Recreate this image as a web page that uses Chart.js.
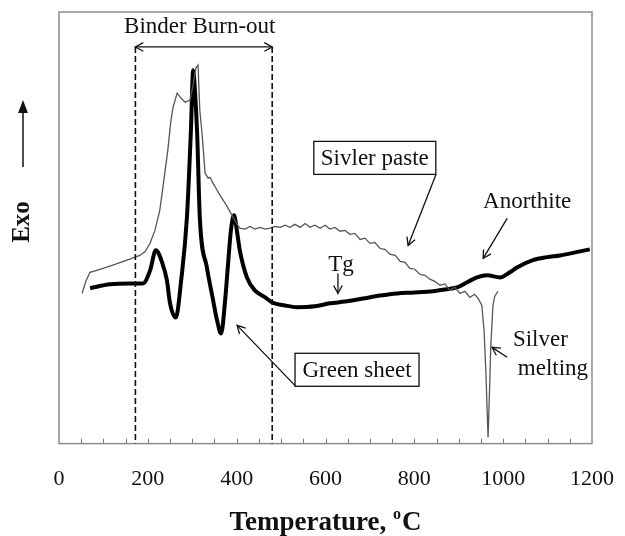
<!DOCTYPE html>
<html>
<head>
<meta charset="utf-8">
<script src="https://cdn.jsdelivr.net/npm/chart.js@4.4.1/dist/chart.umd.min.js"></script>
<style>
    html, body { margin: 0; padding: 0; background: #fff; }
    #wrap { width: 625px; height: 536px; }
</style>
</head>
<body>
<div id="wrap"><canvas id="grafico"></canvas></div>
<script>
// Green sheet (thick curve)
const tempGreen = [70, 115, 160, 189, 205, 218, 232, 243, 250, 263, 275, 288, 297, 302, 306, 311, 317, 333, 347, 356, 365, 374, 380, 387, 394, 401, 407, 423, 441, 464, 480, 509, 536, 576, 610, 644, 684, 723, 761, 801, 842, 869, 896, 919, 941, 964, 993, 1015, 1031, 1067, 1099, 1128, 1162, 1195];
const exoGreen = [36.0, 36.9, 37.1, 37.1, 40.1, 44.8, 42.0, 37.8, 32.5, 29.2, 37.8, 52.4, 72.6, 86.5, 81.9, 71.9, 52.4, 40.8, 33.2, 28.5, 25.5, 33.2, 40.8, 49.4, 52.9, 49.0, 44.8, 38.5, 35.5, 33.9, 32.7, 32.0, 31.6, 31.8, 32.5, 32.9, 33.6, 34.3, 34.8, 35.0, 35.3, 35.7, 36.2, 37.4, 38.5, 39.0, 38.5, 39.7, 40.8, 42.5, 43.2, 43.6, 44.3, 45.0];

// Silver paste (thin curve)
const tempPaste = [52, 61, 70, 83, 99, 126, 153, 171, 182, 194, 205, 216, 227, 236, 245, 252, 257, 266, 275, 284, 295, 302, 308, 313, 317, 322, 329, 336, 340, 347, 356, 365, 374, 383, 392, 401, 407, 419, 430, 441, 453, 464, 475, 486, 498, 509, 520, 531, 543, 554, 565, 576, 588, 599, 610, 621, 633, 644, 655, 666, 678, 689, 700, 711, 723, 734, 745, 757, 768, 779, 790, 801, 813, 824, 835, 846, 858, 869, 880, 891, 903, 914, 925, 936, 945, 952, 957, 961, 966, 970, 972, 977, 981, 988];
const exoPaste = [34.8, 37.8, 39.7, 40.1, 40.6, 41.5, 42.5, 43.2, 43.6, 44.5, 46.4, 49.4, 54.1, 61.0, 68.0, 74.9, 78.0, 81.2, 80.0, 79.1, 79.6, 83.1, 87.0, 87.7, 77.3, 71.9, 62.6, 61.5, 61.7, 60.3, 58.7, 57.1, 55.7, 54.1, 52.4, 50.8, 49.9, 49.7, 50.3, 49.7, 50.1, 49.7, 49.9, 50.3, 50.1, 50.6, 50.1, 50.8, 50.1, 51.0, 50.1, 50.6, 49.9, 50.6, 49.7, 50.1, 49.2, 49.4, 48.5, 48.7, 47.3, 47.6, 46.4, 46.6, 45.2, 45.0, 43.9, 43.6, 42.2, 42.0, 40.6, 40.4, 39.2, 39.0, 38.1, 37.6, 36.7, 37.0, 35.5, 36.2, 34.8, 35.3, 33.9, 34.6, 33.4, 32.0, 26.2, 16.9, 1.4, 14.6, 22.3, 32.0, 34.1, 35.3];

// eixo x
const xMin = 0, xMax = 1200, xStep = 50, xLabelStep = 200;

const SERIF = '"Liberation Serif", "Times New Roman", serif';
const INK = '#111';

function pontos(xs, ys) {
    return xs.map((x, i) => ({ x: x, y: ys[i] }));
}

function seta(ctx, x1, y1, x2, y2, cheia) {
    // linha com ponta de seta em (x2, y2)
    const ang = Math.atan2(y2 - y1, x2 - x1);
    const tam = cheia ? 14 : 9;
    const abre = cheia ? 0.36 : 0.5;
    ctx.beginPath();
    ctx.moveTo(x1, y1);
    ctx.lineTo(cheia ? x2 - Math.cos(ang) * tam * 0.8 : x2, cheia ? y2 - Math.sin(ang) * tam * 0.8 : y2);
    ctx.stroke();
    ctx.beginPath();
    ctx.moveTo(x2 - tam * Math.cos(ang - abre), y2 - tam * Math.sin(ang - abre));
    ctx.lineTo(x2, y2);
    ctx.lineTo(x2 - tam * Math.cos(ang + abre), y2 - tam * Math.sin(ang + abre));
    if (cheia) {
        ctx.closePath();
        ctx.fill();
    } else {
        ctx.stroke();
    }
}

const moldura = {
    id: 'moldura',
    beforeDatasetsDraw(chart) {
        const ctx = chart.ctx;
        const a = chart.chartArea;
        const sx = chart.scales.x;
        ctx.save();
        ctx.strokeStyle = '#8c8c8c';
        ctx.lineWidth = 1.5;
        ctx.strokeRect(a.left, a.top, a.right - a.left, a.bottom - a.top);
        // marcas internas no eixo x
        ctx.lineWidth = 1;
        ctx.strokeStyle = '#777';
        for (const t of sx.ticks) {
            if (t.value <= xMin || t.value >= xMax) continue;
            const x = Math.round(sx.getPixelForValue(t.value)) + 0.5;
            ctx.beginPath();
            ctx.moveTo(x, a.bottom);
            ctx.lineTo(x, a.bottom - 5);
            ctx.stroke();
        }
        ctx.restore();
    }
};

const anotacoes = {
    id: 'anotacoes',
    afterDatasetsDraw(chart) {
        const ctx = chart.ctx;
        const sx = chart.scales.x, sy = chart.scales.y;
        const a = chart.chartArea;
        const px = v => sx.getPixelForValue(v);
        const py = v => sy.getPixelForValue(v);

        ctx.save();
        ctx.fillStyle = INK;
        ctx.strokeStyle = INK;
        ctx.font = '23px ' + SERIF;
        ctx.textBaseline = 'middle';

        // Binder Burn-out
        ctx.lineWidth = 1.6;
        ctx.setLineDash([6, 3]);
        for (const t of [172, 480]) {
            ctx.beginPath();
            ctx.moveTo(px(t), py(91.9));
            ctx.lineTo(px(t), a.bottom);
            ctx.stroke();
        }
        ctx.setLineDash([]);
        ctx.lineWidth = 1.3;
        const mid = (px(172) + px(480)) / 2;
        seta(ctx, mid, py(91.9), px(172), py(91.9), false);
        seta(ctx, mid, py(91.9), px(480), py(91.9), false);
        ctx.textAlign = 'center';
        ctx.fillText('Binder Burn-out', px(317), py(96.5));

        // caixas de legenda
        function caixa(texto, tx, ty, w, h) {
            const cx = px(tx), cy = py(ty);
            ctx.fillStyle = '#fff';
            ctx.fillRect(cx - w / 2, cy - h / 2, w, h);
            ctx.lineWidth = 1.3;
            ctx.strokeRect(cx - w / 2, cy - h / 2, w, h);
            ctx.fillStyle = INK;
            ctx.textAlign = 'center';
            ctx.fillText(texto, cx, cy + 1);
        }
        caixa('Sivler paste', 711, 66.2, 122, 33);
        caixa('Green sheet', 671, 17.1, 124, 33);

        ctx.lineWidth = 1.3;
        seta(ctx, px(849), py(62.4), px(786), py(45.9), false);
        seta(ctx, px(531), py(13.5), px(401), py(27.4), false);

        // Anorthite
        ctx.textAlign = 'center';
        ctx.fillText('Anorthite', px(1054), py(55.9));
        seta(ctx, px(1009), py(52.2), px(955), py(42.9), false);

        // Tg
        ctx.fillText('Tg', px(635), py(41.3));
        seta(ctx, px(628), py(39.4), px(628), py(34.8), false);

        // Silver melting
        ctx.textAlign = 'left';
        ctx.fillText('Silver', px(1022), py(23.9));
        ctx.fillText('melting', px(1033), py(17.4));
        seta(ctx, px(1009), py(20.0), px(975), py(22.3), false);

        ctx.restore();
    },
    afterDraw(chart) {
        const ctx = chart.ctx;
        const a = chart.chartArea;
        ctx.save();
        ctx.fillStyle = INK;
        ctx.strokeStyle = INK;
        ctx.textBaseline = 'alphabetic';

        // titulo do eixo x com "o" sobrescrito
        const f1 = 'bold 27px ' + SERIF, f2 = 'bold 16px ' + SERIF;
        ctx.font = f1;
        const w1 = ctx.measureText('Temperature, ').width;
        const w3 = ctx.measureText('C').width;
        ctx.font = f2;
        const w2 = ctx.measureText('o').width + 1;
        let x = (a.left + a.right) / 2 - (w1 + w2 + w3) / 2;
        const base = 530;
        ctx.font = f1;
        ctx.textAlign = 'left';
        ctx.fillText('Temperature, ', x, base);
        ctx.font = f2;
        ctx.fillText('o', x + w1, base - 11);
        ctx.font = f1;
        ctx.fillText('C', x + w1 + w2, base);

        // titulo do eixo y
        ctx.save();
        ctx.translate(23, 222);
        ctx.rotate(-Math.PI / 2);
        ctx.font = 'bold 25px ' + SERIF;
        ctx.textAlign = 'center';
        ctx.textBaseline = 'middle';
        ctx.fillText('Exo', 0, 0);
        ctx.restore();

        ctx.lineWidth = 1.5;
        seta(ctx, 23, 167, 23, 100, true);
        ctx.restore();
    }
};

const ctx = document.getElementById('grafico').getContext('2d');
const grafico = new Chart(ctx, {
    type: 'line',
    data: {
        datasets: [{
            label: 'Silver paste',
            data: pontos(tempPaste, exoPaste),
            borderColor: '#555',
            borderWidth: 1.3,
            pointRadius: 0,
            tension: 0
        }, {
            label: 'Green sheet',
            data: pontos(tempGreen, exoGreen),
            borderColor: '#000',
            borderWidth: 4,
            pointRadius: 0,
            cubicInterpolationMode: 'monotone'
        }]
    },
    options: {
        responsive: true,
        maintainAspectRatio: false,
        animation: false,
        layout: {
            padding: { left: 59, right: 33, top: 12, bottom: 22 }
        },
        plugins: {
            legend: { display: false },
            tooltip: { enabled: false }
        },
        scales: {
            x: {
                type: 'linear',
                min: xMin,
                max: xMax,
                afterFit: s => { s.paddingLeft = 0; s.paddingRight = 0; },
                grid: { display: false, drawTicks: false },
                border: { display: false },
                ticks: {
                    stepSize: xStep,
                    autoSkip: false,
                    maxRotation: 0,
                    padding: 22,
                    color: INK,
                    font: { family: SERIF, size: 22 },
                    callback: v => (v % xLabelStep === 0 ? String(v) : '')
                }
            },
            y: {
                display: false,
                min: 0,
                max: 100
            }
        }
    },
    plugins: [moldura, anotacoes]
});
</script>
</body>
</html>
